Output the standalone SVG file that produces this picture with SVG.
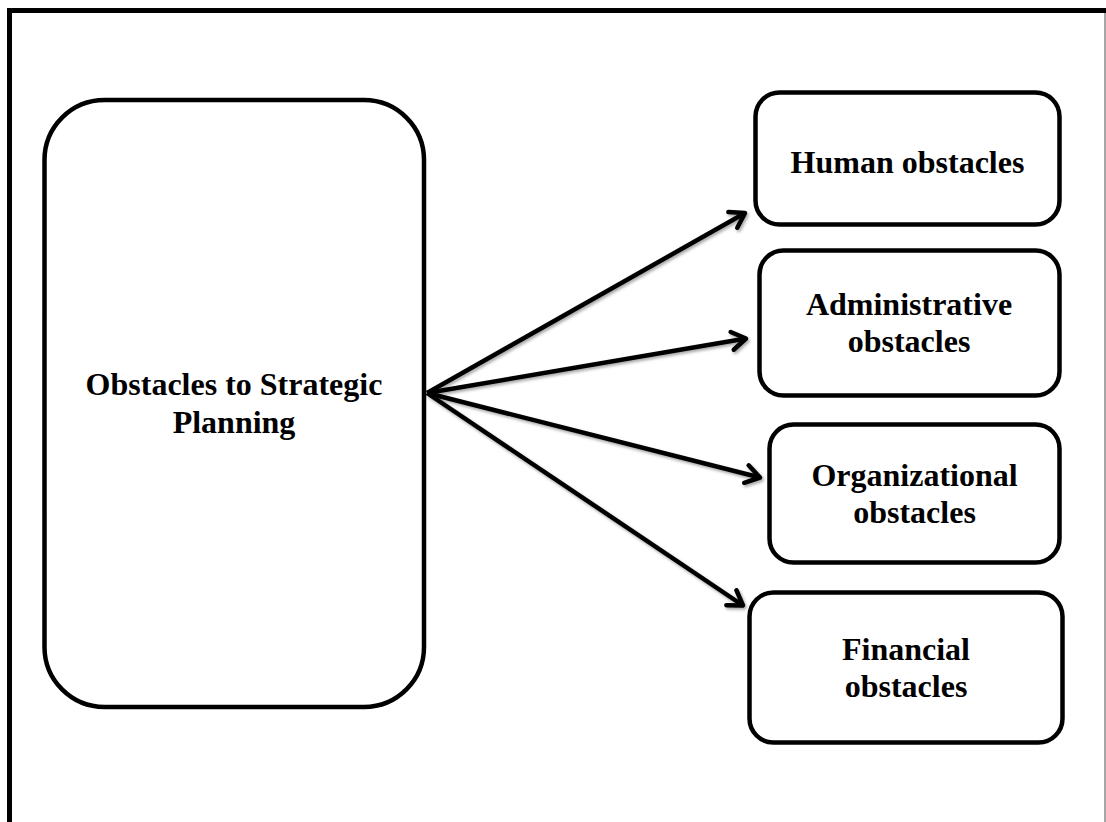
<svg xmlns="http://www.w3.org/2000/svg" width="1106" height="822" viewBox="0 0 1106 822">
  <style>
    .box { fill: #ffffff; stroke: #000000; stroke-width: 4.5; }
    .label { font-family: "Liberation Serif", "Times New Roman", serif; font-weight: bold; font-size: 32px; fill: #000000; text-anchor: middle; }
    .link { stroke: #000000; stroke-width: 4.5; fill: none; marker-end: url(#chevron); }
  </style>
  <defs>
    <filter id="soft" x="-10%" y="-10%" width="120%" height="120%">
      <feDropShadow dx="1.5" dy="2" stdDeviation="1.5" flood-color="#000000" flood-opacity="0.35"/>
    </filter>
    <marker id="chevron" viewBox="-20 -14 24 28" markerWidth="24" markerHeight="28" refX="0" refY="0" orient="auto" markerUnits="userSpaceOnUse">
      <path d="M-14,-9 L0,0 L-14,9" fill="none" stroke="#000000" stroke-width="4.5" stroke-linecap="round" stroke-linejoin="round"/>
    </marker>
  </defs>

  <rect width="1106" height="822" fill="#ffffff"/>

  <!-- page frame -->
  <g id="frame">
    <line x1="7" y1="10.5" x2="1106" y2="10.5" stroke="#000000" stroke-width="5"/>
    <line x1="9.5" y1="8" x2="9.5" y2="822" stroke="#000000" stroke-width="5"/>
    <line x1="1105" y1="13" x2="1105" y2="822" stroke="#888888" stroke-width="1.5"/>
  </g>

  <!-- main concept -->
  <g id="node-main">
    <rect class="box" x="44.5" y="100" width="379.5" height="607" rx="60" ry="60"/>
    <text class="label" x="234" y="395">Obstacles to Strategic</text>
    <text class="label" x="234" y="433">Planning</text>
  </g>

  <g id="node-human">
    <rect class="box" x="755.5" y="92.5" width="304" height="132" rx="24" ry="24"/>
    <text class="label" x="907.5" y="173">Human obstacles</text>
  </g>

  <g id="node-administrative">
    <rect class="box" x="759.5" y="250.5" width="300" height="145" rx="24" ry="24"/>
    <text class="label" x="909" y="315">Administrative</text>
    <text class="label" x="909" y="352">obstacles</text>
  </g>

  <g id="node-organizational">
    <rect class="box" x="769.5" y="424.5" width="290" height="138" rx="24" ry="24"/>
    <text class="label" x="914.5" y="486">Organizational</text>
    <text class="label" x="914.5" y="523">obstacles</text>
  </g>

  <g id="node-financial">
    <rect class="box" x="749.5" y="592.5" width="313" height="150" rx="24" ry="24"/>
    <text class="label" x="906" y="660">Financial</text>
    <text class="label" x="906" y="697">obstacles</text>
  </g>

  <!-- connectors -->
  <g id="connectors" filter="url(#soft)">
    <line class="link" x1="427" y1="393" x2="745" y2="213"/>
    <line class="link" x1="427" y1="393" x2="746" y2="338.5"/>
    <line class="link" x1="427" y1="393" x2="760" y2="477.5"/>
    <line class="link" x1="427" y1="393" x2="743" y2="605.5"/>
  </g>
</svg>
